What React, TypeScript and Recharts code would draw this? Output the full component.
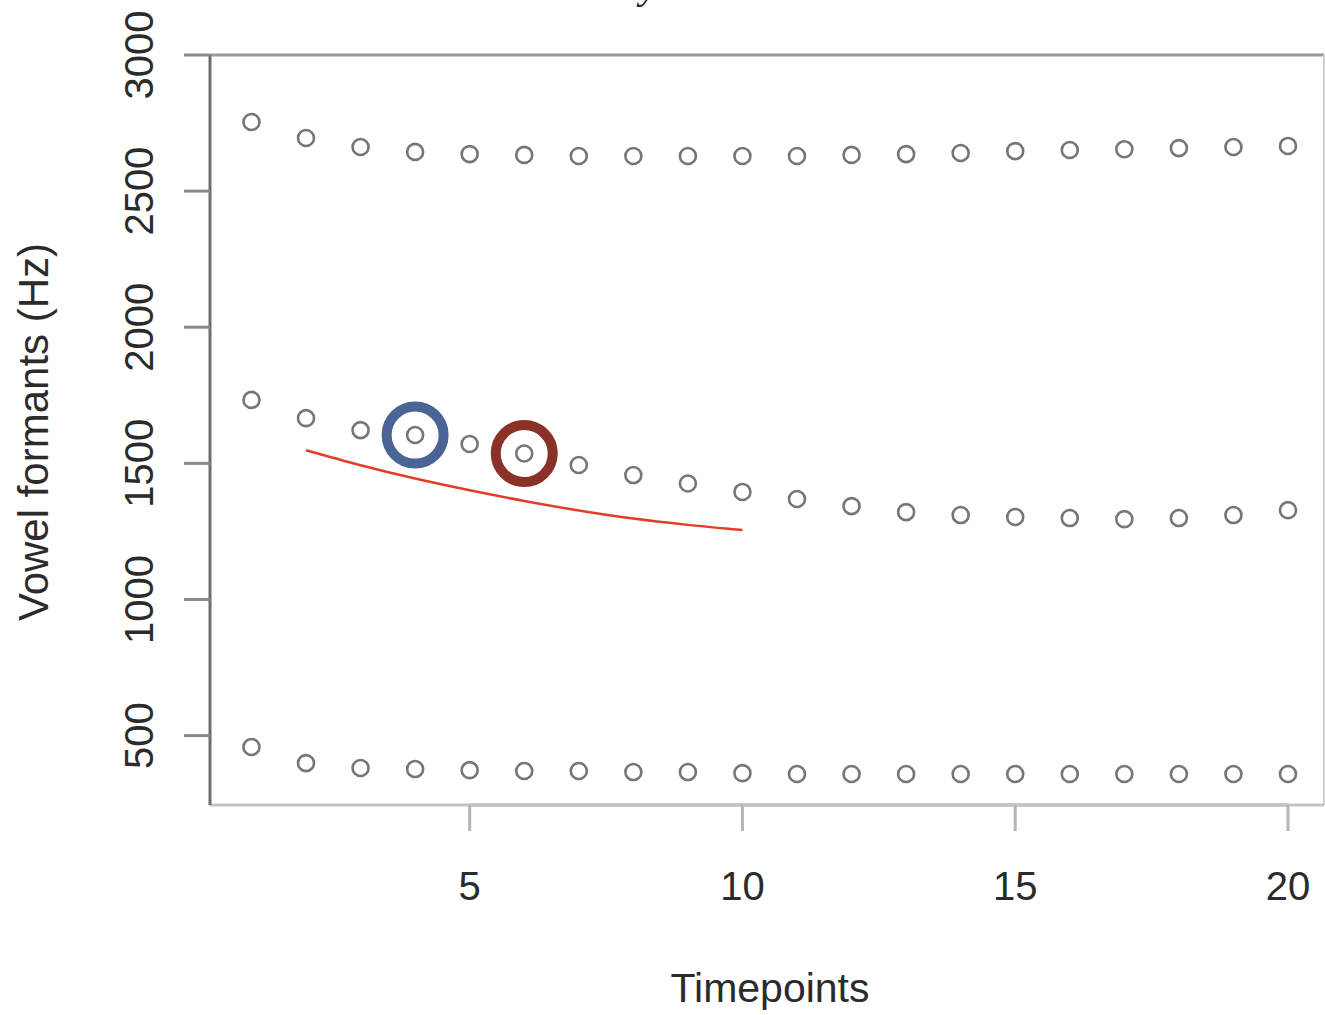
import { ComposedChart, Scatter, Line, XAxis, YAxis, ReferenceLine } from 'recharts'

const timepoints = [1, 2, 3, 4, 5, 6, 7, 8, 9, 10, 11, 12, 13, 14, 15, 16, 17, 18, 19, 20]
const f1 = [458, 399, 381, 377, 373, 370, 370, 366, 366, 362, 359, 359, 359, 359, 359, 359, 359, 359, 359, 359]
const f2 = [1733, 1666, 1622, 1604, 1571, 1536, 1494, 1457, 1426, 1395, 1369, 1343, 1321, 1310, 1303, 1299, 1295, 1299, 1310, 1328]
const f3 = [2754, 2695, 2662, 2644, 2636, 2633, 2629, 2629, 2629, 2629, 2629, 2633, 2636, 2640, 2647, 2651, 2654, 2658, 2662, 2666]

// hand-drawn trend under F2
const trendX = [2, 3, 4, 5, 6, 7, 8, 9, 10]
const trendY = [1548, 1493, 1444, 1401, 1362, 1327, 1297, 1274, 1255]

// circled points on F2
const blueIdx = 3
const redIdx = 5

const yTicks = [500, 1000, 1500, 2000, 2500, 3000]
const xTicks = [5, 10, 15, 20]

const toPoints = (ys: number[]) => ys.map((y, i) => ({ x: timepoints[i], y }))
const f1Data = toPoints(f1)
const f2Data = toPoints(f2)
const f3Data = toPoints(f3)
const trendData = trendX.map((x, i) => ({ x, y: trendY[i] }))
const blueData = [f2Data[blueIdx]]
const redData = [f2Data[redIdx]]

const FONT = '"Liberation Sans", Arial, sans-serif'

const OpenCircle = (props: any) => (
  <circle cx={props.cx} cy={props.cy} r={8} fill="none" stroke="#767676" strokeWidth={2.6} />
)

const Ring = (color: string) => (props: any) => (
  <circle cx={props.cx} cy={props.cy} r={28.5} fill="none" stroke={color} strokeWidth={10} />
)

const YTick = (props: any) => {
  const { y, payload } = props
  return (
    <text x={153} y={y} transform={`rotate(-90 153 ${y})`} textAnchor="middle" fontFamily={FONT} fontSize={40} fill="#2b2b2b">
      {payload.value}
    </text>
  )
}

const XTick = (props: any) => {
  const { x, payload } = props
  return (
    <text x={x} y={900} textAnchor="middle" fontFamily={FONT} fontSize={40} fill="#2b2b2b">
      {payload.value}
    </text>
  )
}

const App = () => {
  return (
    <div style={{ position: 'absolute', left: 0, top: 0, background: '#fff' }}>
      <ComposedChart width={1325} height={1015} margin={{ top: 55, right: 1, bottom: 0, left: 0 }}>
        <text x={640} y={-2} fontFamily='"Liberation Serif", serif' fontStyle="italic" fontSize={40} fill="#222">
          y
        </text>
        <XAxis
          type="number"
          dataKey="x"
          domain={[0.24, 20.66]}
          ticks={xTicks}
          height={210}
          tickSize={26}
          axisLine={{ stroke: '#c4c4c4', strokeWidth: 3 }}
          tickLine={{ stroke: '#b5b5b5', strokeWidth: 3 }}
          tick={<XTick />}
          allowDataOverflow
        />
        <YAxis
          type="number"
          dataKey="y"
          domain={[245, 3000]}
          ticks={yTicks}
          width={210}
          tickSize={26}
          axisLine={{ stroke: '#6e6e6e', strokeWidth: 3 }}
          tickLine={{ stroke: '#8a8a8a', strokeWidth: 3 }}
          tick={<YTick />}
          allowDataOverflow
        />
        <ReferenceLine y={3000} stroke="#9a9a9a" strokeWidth={3} />
        <ReferenceLine x={20.66} stroke="#d0d0d0" strokeWidth={2} />
        <ReferenceLine segment={[{ x: 5, y: 245 }, { x: 20, y: 245 }]} stroke="#9e9e9e" strokeWidth={3} />
        <Scatter data={f3Data} shape={<OpenCircle />} isAnimationActive={false} />
        <Scatter data={f2Data} shape={<OpenCircle />} isAnimationActive={false} />
        <Scatter data={f1Data} shape={<OpenCircle />} isAnimationActive={false} />
        <Line data={trendData} dataKey="y" type="monotone" stroke="#e23d28" strokeWidth={2.5} dot={false} isAnimationActive={false} />
        <Scatter data={blueData} shape={Ring('#4a6595')} isAnimationActive={false} />
        <Scatter data={redData} shape={Ring('#8a3128')} isAnimationActive={false} />
        <text x={770} y={1002} textAnchor="middle" fontFamily={FONT} fontSize={41} fill="#2b2b2b">
          Timepoints
        </text>
        <text x={48} y={432} transform="rotate(-90 48 432)" textAnchor="middle" fontFamily={FONT} fontSize={42} fill="#2b2b2b">
          Vowel formants (Hz)
        </text>
      </ComposedChart>
    </div>
  )
}

export default App
